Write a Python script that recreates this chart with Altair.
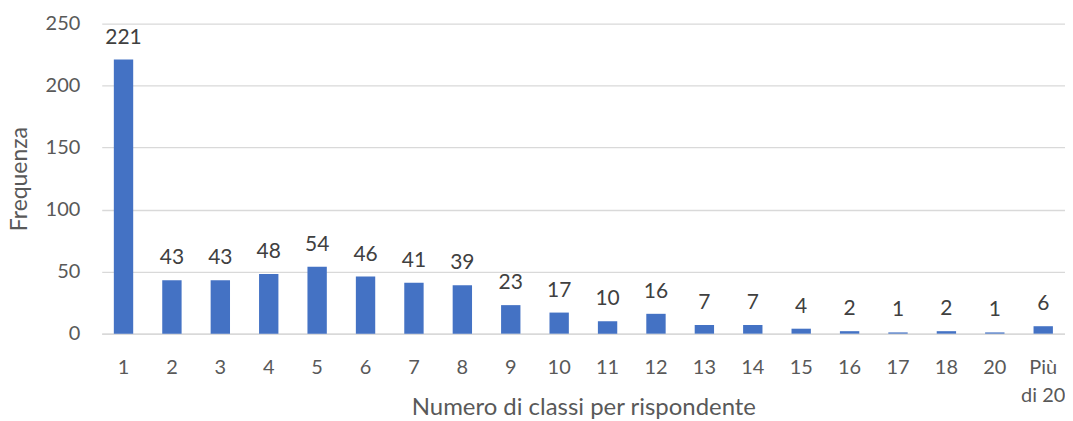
import altair as alt
import pandas as pd

categories = ["1", "2", "3", "4", "5", "6", "7", "8", "9", "10", "11", "12",
              "13", "14", "15", "16", "17", "18", "20", "Più di 20"]
values = [221, 43, 43, 48, 54, 46, 41, 39, 23, 17, 10, 16, 7, 7, 4, 2, 1, 2, 1, 6]

df = pd.DataFrame({"cat": categories, "val": values})

FONT = "Lato"
GREY = "#595959"

x = alt.X("cat:N", sort=categories,
          scale=alt.Scale(paddingInner=0.6, paddingOuter=0.25),
          axis=alt.Axis(title="Numero di classi per rispondente",
                        labelAngle=0, labelFont=FONT, labelFontSize=20,
                        labelColor=GREY, labelPadding=24, ticks=False,
                        labelExpr="datum.value == 'Più di 20' ? ['Più', 'di 20'] : datum.value",
                        labelLineHeight=28,
                        domainColor="#d9d9d9", domainWidth=1.5,
                        titleFont=FONT, titleFontSize=24, titleFontWeight="normal",
                        titleColor=GREY, titleY=74, titleBaseline="middle"))
y = alt.Y("val:Q", scale=alt.Scale(domain=[0, 250], nice=False),
          axis=alt.Axis(title="Frequenza", values=[0, 50, 100, 150, 200, 250],
                        labelFont=FONT, labelFontSize=20, labelColor=GREY,
                        labelPadding=22, ticks=False, domain=False,
                        gridColor="#d9d9d9", gridWidth=1.3,
                        titleFont=FONT, titleFontSize=23, titleFontWeight="normal",
                        titleColor=GREY, titleX=-82, titleBaseline="middle"))

bars = alt.Chart(df).mark_bar(color="#4472C4").encode(x=x, y=y)
labels = alt.Chart(df).mark_text(font=FONT, fontSize=21, color="#404040",
                                 baseline="bottom", dy=-12).encode(
    x=alt.X("cat:N", sort=categories), y="val:Q", text="val:Q")

chart = (bars + labels).properties(
    width=966, height=311,
    autosize=alt.AutoSizeParams(type="none"),
    padding={"left": 94, "top": 15, "right": 0, "bottom": 87},
).configure_view(stroke=None)

chart.save("out.html", embed_options={"renderer": "svg", "actions": False})
